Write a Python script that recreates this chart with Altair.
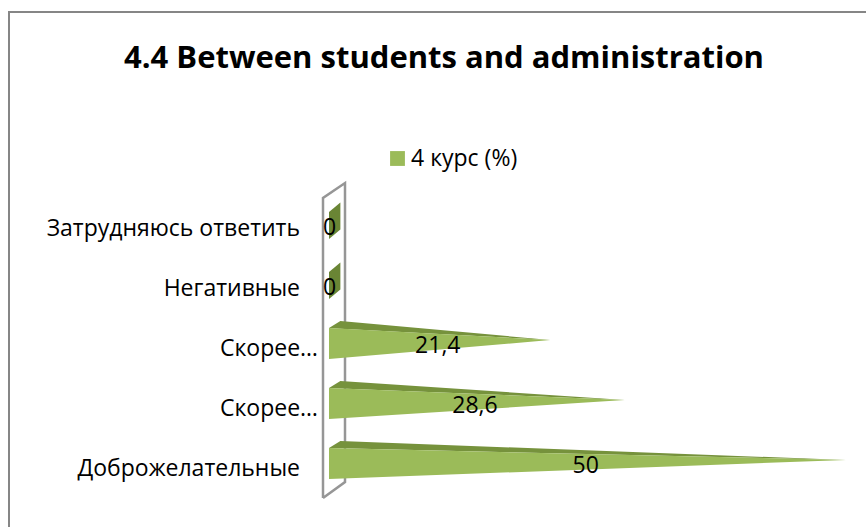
import altair as alt
import pandas as pd

categories = ["Доброжелательные", "Скорее…", "Скорее…", "Негативные", "Затрудняюсь ответить"]
category_right_edges = [300, 318, 318, 300, 300]
values = [50, 28.6, 21.4, 0, 0]
value_labels = ["50", "28,6", "21,4", "0", "0"]
series_name = "4 курс (%)"
title_text = "4.4 Between students and administration"

FONT = "Open Sans"
GREEN = "#9bbb59"
DARK_GREEN = "#76923c"
BASE_GREEN = "#6a8535"
WALL = "#969696"
FRAME = "#868686"

W, H = 866, 527
X_ZERO, X_UNIT = 329, 10.34      # pixels of value 0, pixels per percent
Y_RANK0, Y_UNIT = 463.5, 60      # pixels of rank 0 centre, pixels per rank


def x_of(px):
    return (px - X_ZERO) / X_UNIT


def y_of(px):
    return (Y_RANK0 - px) / Y_UNIT


x_scale = alt.Scale(domain=[x_of(0), x_of(W)], range=[0, W], nice=False, zero=False)
y_scale = alt.Scale(domain=[y_of(H), y_of(0)], range=[H, 0], nice=False, zero=False)

# Cone proportions, in axis units
HALF = 0.258         # half height of the front face at its base
DEPTH_X = 1.1        # sideways reach of the receding top face
DEPTH_Y = 0.117      # upward reach of the receding top face
TIP_Y = 0.058        # apex sits slightly above the base centre
ZERO_HALF = 0.225    # half height of a zero-valued cone's base
ZERO_LIFT = 0.033    # zero-valued bases sit a little higher than their rank
ZERO_SHEAR = 0.16    # rise of a zero-valued base across its depth

front, top, flat = [], [], []
for rank, value in enumerate(values):
    if value > 0:
        # Front face narrows from the base to the apex
        front.append(dict(rank=rank, x=0, y=rank - HALF, y2=rank + HALF, series=series_name))
        front.append(dict(rank=rank, x=value, y=rank + TIP_Y, y2=rank + TIP_Y, series=series_name))
        low = rank + HALF + (TIP_Y - HALF) * DEPTH_X / value
        top.append(dict(rank=rank, x=0, y=rank + HALF, y2=rank + HALF))
        top.append(dict(rank=rank, x=DEPTH_X, y=low, y2=rank + HALF + DEPTH_Y))
        top.append(dict(rank=rank, x=value, y=rank + TIP_Y, y2=rank + TIP_Y))
    else:
        # A zero-valued cone shows only its sheared base
        centre = rank - ZERO_LIFT
        flat.append(dict(rank=rank, x=0, y=centre - ZERO_HALF, y2=centre + ZERO_HALF))
        flat.append(dict(rank=rank, x=DEPTH_X, y=centre - ZERO_HALF + ZERO_SHEAR, y2=centre + ZERO_HALF + ZERO_SHEAR))

front_df = pd.DataFrame(front)
top_df = pd.DataFrame(top)
flat_df = pd.DataFrame(flat)

# Side wall of the 3-D plot box, traced in order
wall_df = pd.DataFrame({
    "x": [x_of(323), x_of(323), x_of(345), x_of(345), x_of(323)],
    "y": [y_of(498), y_of(198), y_of(183), y_of(482), y_of(498)],
    "i": [0, 1, 2, 3, 4],
})

# Chart area border: only the top and left edges fall inside the page
frame_df = pd.DataFrame({
    "x": [x_of(9), x_of(9), x_of(W)],
    "y": [y_of(H), y_of(12), y_of(12)],
    "i": [0, 1, 2],
})

label_df = pd.DataFrame({
    "x": [v / 2 - 0.18 if v else 0.05 for v in values],
    "y": [r - (0.04 if v else 0.08) for r, v in enumerate(values)],
    "text": value_labels,
})

category_df = pd.DataFrame({
    "x": [x_of(px) for px in category_right_edges],
    "y": [r - 0.09 for r in range(len(categories))],
    "text": categories,
})

title_df = pd.DataFrame({"x": [x_of(444)], "y": [y_of(59)], "text": [title_text]})

X = alt.X("x:Q", scale=x_scale, axis=None)
Y = alt.Y("y:Q", scale=y_scale, axis=None)

frame = alt.Chart(frame_df).mark_line(color=FRAME, strokeWidth=2, strokeJoin="miter").encode(
    x=X, y=Y, order="i:Q"
)
wall = alt.Chart(wall_df).mark_line(color=WALL, strokeWidth=2.5, strokeJoin="miter").encode(
    x=X, y=Y, order="i:Q"
)
flat_faces = alt.Chart(flat_df).mark_area(color=BASE_GREEN).encode(
    x=X, y=Y, y2="y2:Q", detail="rank:N"
)
top_faces = alt.Chart(top_df).mark_area(color=DARK_GREEN).encode(
    x=X, y=Y, y2="y2:Q", detail="rank:N"
)
front_faces = alt.Chart(front_df).mark_area().encode(
    x=X, y=Y, y2="y2:Q", detail="rank:N",
    color=alt.Color("series:N", scale=alt.Scale(range=[GREEN]), legend=alt.Legend(
        orient="none", legendX=386, legendY=147, title=None, symbolType="square", symbolSize=220,
        symbolStrokeWidth=0, labelFont=FONT, labelFontSize=23, labelColor="#000000", labelOffset=2,
        labelLimit=300,
    )),
)
category_text = alt.Chart(category_df).mark_text(font=FONT, fontSize=23, color="#000000", align="right", baseline="middle").encode(
    x=X, y=Y, text="text:N"
)
value_text = alt.Chart(label_df).mark_text(font=FONT, fontSize=23, color="#000000", align="center", baseline="middle").encode(
    x=X, y=Y, text="text:N"
)
title = alt.Chart(title_df).mark_text(font=FONT, fontSize=31, fontWeight="bold", color="#000000", align="center", baseline="middle").encode(
    x=X, y=Y, text="text:N"
)

chart = (frame + wall + flat_faces + top_faces + front_faces + category_text + value_text + title).properties(
    width=W, height=H, padding=0, autosize=alt.AutoSizeParams(type="none"), background="#ffffff",
).configure_view(
    stroke=None
)
chart.save("out.html", embed_options={"renderer": "svg", "actions": False})
